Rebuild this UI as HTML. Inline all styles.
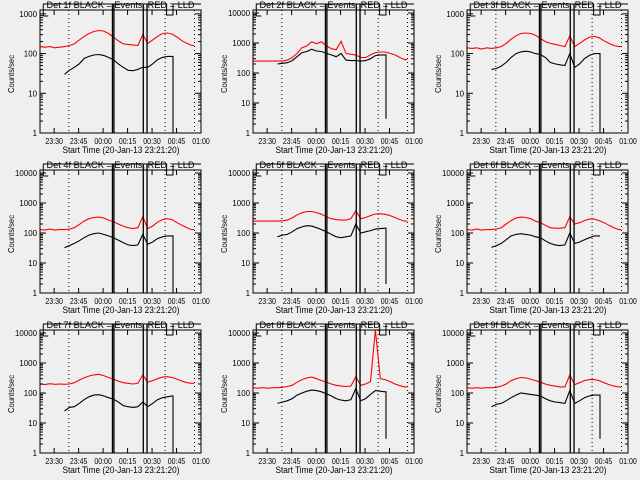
<!DOCTYPE html>
<html><head><meta charset="utf-8">
<style>
html,body{margin:0;padding:0;background:#efefef;}
svg{display:block;font-family:"Liberation Sans",sans-serif;}
</style></head>
<body>
<svg id="chart" width="640" height="480" viewBox="0 0 640 480" xmlns="http://www.w3.org/2000/svg">
<rect width="640" height="480" fill="#efefef"/>
</svg>
<script>
// minutes since 23:21:20
const times = [0,3,6,9,12,15,18,21,24,27,30,33,36,39,42,45,48,51,54,57,60,63,66,69,72,75,78,81,84,87,90,93];
const detectorNames = ["1f","2f","3f","4f","5f","6f","7f","8f","9f"];
const yTops = [1250,12600,1250,12600,12600,12600,12600,12600,12600];
const red1 = [150,145,150,140,145,150,160,175,220,270,320,360,380,370,320,260,210,175,170,165,160,300,180,220,270,320,330,310,260,210,180,160];
const blk1 = [null,null,null,null,null,30,38,45,55,75,85,92,95,90,80,70,55,45,38,37,40,45,45,55,70,80,85,85];
const red2 = [250,250,250,250,250,250,250,270,330,450,700,800,1100,950,1100,800,650,600,1150,450,420,400,330,330,400,480,500,500,450,400,330,280];
const blk2 = [null,null,null,null,null,200,210,220,260,350,480,520,620,540,520,450,400,350,450,270,260,260,250,260,300,380,400,400];
const red3 = [140,135,140,130,140,135,140,150,180,230,280,320,330,320,290,240,200,180,170,160,150,280,150,180,220,260,270,250,210,180,160,150];
const blk3 = [null,null,null,null,null,40,42,48,60,80,100,110,115,110,100,95,80,60,55,52,50,100,45,55,75,90,100,100];
const red4 = [130,125,135,125,130,130,135,150,190,250,300,330,340,320,270,240,200,170,150,140,150,350,140,170,230,280,300,280,220,180,150,130];
const blk4 = [null,null,null,null,null,32,38,45,55,70,85,95,100,90,80,70,58,48,40,38,40,90,42,50,65,75,80,80];
const red5 = [250,250,250,250,250,250,255,270,320,400,470,520,520,480,420,350,300,280,270,270,300,550,300,330,380,430,440,420,380,330,280,250];
const blk5 = [null,null,null,null,null,75,85,90,110,140,160,175,170,150,130,110,90,75,70,75,80,200,100,110,120,135,140,145];
const red6 = [130,125,135,125,130,130,135,150,200,260,320,340,330,300,250,220,180,150,145,145,150,350,200,220,260,290,290,260,220,180,150,130];
const blk6 = [null,null,null,null,null,33,38,45,60,80,90,95,90,85,75,70,55,45,40,38,40,100,45,50,60,70,80,80];
const red7 = [200,190,205,195,200,195,200,220,270,320,370,400,420,380,330,290,250,220,210,200,210,400,230,260,300,340,350,330,290,250,220,210];
const blk7 = [null,null,null,null,null,25,33,35,45,60,75,85,88,80,70,62,50,38,35,33,35,50,35,45,60,70,75,80];
const red8 = [150,145,150,145,150,150,155,165,180,230,280,320,340,300,260,230,200,180,170,165,170,350,180,200,240,12600,300,280,240,200,175,160];
const blk8 = [null,null,null,null,null,45,50,55,65,85,100,115,125,120,110,95,80,65,58,55,60,140,55,65,90,120,115,110];
const red9 = [150,145,150,145,150,150,155,170,200,260,300,330,320,290,260,230,200,180,170,160,160,400,190,220,260,280,280,260,220,190,170,160];
const blk9 = [null,null,null,null,null,35,42,45,55,70,85,100,95,90,85,80,65,55,50,48,45,120,45,55,70,80,85,85];
const redSeries = [red1,red2,red3,red4,red5,red6,red7,red8,red9];
const blackSeries = [blk1,blk2,blk3,blk4,blk5,blk6,blk7,blk8,blk9];
const blackDrop = [1,3,1,1,2,null,1,3,3];
const dottedTimes = [17.67,76.67,94.67];
const solidTimes = [44.4,45.3,63.3,65.6];
const tickLabels = ["23:30","23:45","00:00","00:15","00:30","00:45","01:00"];
const tickTimes = [8.67,23.67,38.67,53.67,68.67,83.67,98.67];
const redEnd = 94.5;
const blackEnd = 81.5;

const NS = "http://www.w3.org/2000/svg";
const svg = document.getElementById("chart");
function mk(tag, attrs, parent){const e=document.createElementNS(NS,tag);for(const k in attrs)e.setAttribute(k,attrs[k]);(parent||svg).appendChild(e);return e;}
const colX=[0,213,427], rowY=[0,160,320];
const TMAX=98.67;

for(let p=0;p<9;p++){
  const ox=colX[p%3], oy=rowY[Math.floor(p/3)];
  const L=ox+40,R=ox+201,T=oy+10,B=oy+133;
  const g=mk("g",{});
  
  
  const ytop=yTops[p];
  const xs=t=>L+(R-L)*t/TMAX;
  const ys=v=>B-(B-T)*Math.log10(Math.max(v,1))/Math.log10(ytop);
  dottedTimes.forEach(t=>{const l=mk("line",{x1:xs(t),x2:xs(t),y1:T,y2:B,stroke:"#000","stroke-width":1,"stroke-dasharray":"1,3"},g);
    });
  const x43=xs(2),x167=xs(77.6),x173=xs(81.5);
  const st=mk("path",{d:`M${x43},${T+6} h5 M${x43},${T+6} V${oy+4} H${x167} V${T+5} H${x173} V${oy+4} H${R}`,fill:"none",stroke:"#000","stroke-width":1},g);
  
  let d="";times.forEach((t,i)=>{const v=redSeries[p][i];if(v==null)return;d+=(d?"L":"M")+xs(t).toFixed(1)+","+ys(v).toFixed(1);});
  d+="L"+xs(redEnd).toFixed(1)+","+ys(redSeries[p][redSeries[p].length-1]).toFixed(1);
  const rp=mk("path",{d:d,fill:"none",stroke:"#ff0000","stroke-width":1.1},g);
  
  d="";let last=null;times.forEach((t,i)=>{const v=blackSeries[p][i];if(v==null)return;d+=(d?"L":"M")+xs(t).toFixed(1)+","+ys(v).toFixed(1);last=v;});
  d+="L"+xs(blackEnd).toFixed(1)+","+ys(last).toFixed(1);
  if(blackDrop[p]!=null)d+="L"+xs(blackEnd).toFixed(1)+","+ys(blackDrop[p]).toFixed(1);
  const bp=mk("path",{d:d,fill:"none",stroke:"#000","stroke-width":1.1},g);
  
  solidTimes.forEach(t=>{const l=mk("line",{x1:xs(t),x2:xs(t),y1:oy+4,y2:B,stroke:"#000","stroke-width":1.3},g);
    });
  const bx=mk("rect",{x:L,y:T,width:R-L,height:B-T,fill:"none",stroke:"#000","stroke-width":1},g);
  
  const dec=Math.floor(Math.log10(ytop));
  for(let e=0;e<=dec;e++){
    for(let m=1;m<10;m++){const v=m*Math.pow(10,e);if(v>ytop)break;const y=ys(v);const len=m==1?6:3;
      mk("line",{x1:L,x2:L+len,y1:y,y2:y,stroke:"#000"},g);mk("line",{x1:R,x2:R-len,y1:y,y2:y,stroke:"#000"},g);}
    const lab=String(Math.pow(10,e));
    const tx=mk("text",{x:L-3,y:ys(Math.pow(10,e))+3,"font-size":8.5,"text-anchor":"end",textLength:lab.length*4.4,lengthAdjust:"spacingAndGlyphs"},g);
    tx.textContent=lab;
    
  }
  tickTimes.forEach((t,i)=>{const x=xs(t);
    mk("line",{x1:x,x2:x,y1:B,y2:B-5,stroke:"#000"},g);mk("line",{x1:x,x2:x,y1:T,y2:T+5,stroke:"#000"},g);
    const tx=mk("text",{x:x,y:B+11,"font-size":8.5,"text-anchor":"middle",textLength:17.5,lengthAdjust:"spacingAndGlyphs"},g);tx.textContent=tickLabels[i];
    });
  const tt=mk("text",{x:ox+120.5,y:oy+8,"font-size":9.5,"text-anchor":"middle",textLength:148,lengthAdjust:"spacingAndGlyphs"},g);
  tt.textContent="Det "+detectorNames[p]+" BLACK = Events, RED = LLD";
  
  const xt=mk("text",{x:ox+121,y:oy+153,"font-size":9,"text-anchor":"middle",textLength:117,lengthAdjust:"spacingAndGlyphs"},g);
  xt.textContent="Start Time (20-Jan-13 23:21:20)";
  
  const yt=mk("text",{x:0,y:0,"font-size":8,"text-anchor":"middle",textLength:38,lengthAdjust:"spacingAndGlyphs",transform:`translate(${ox+14},${oy+74}) rotate(-90)`},g);
  yt.textContent="Counts/sec";
  
}
</script>
</body></html>
